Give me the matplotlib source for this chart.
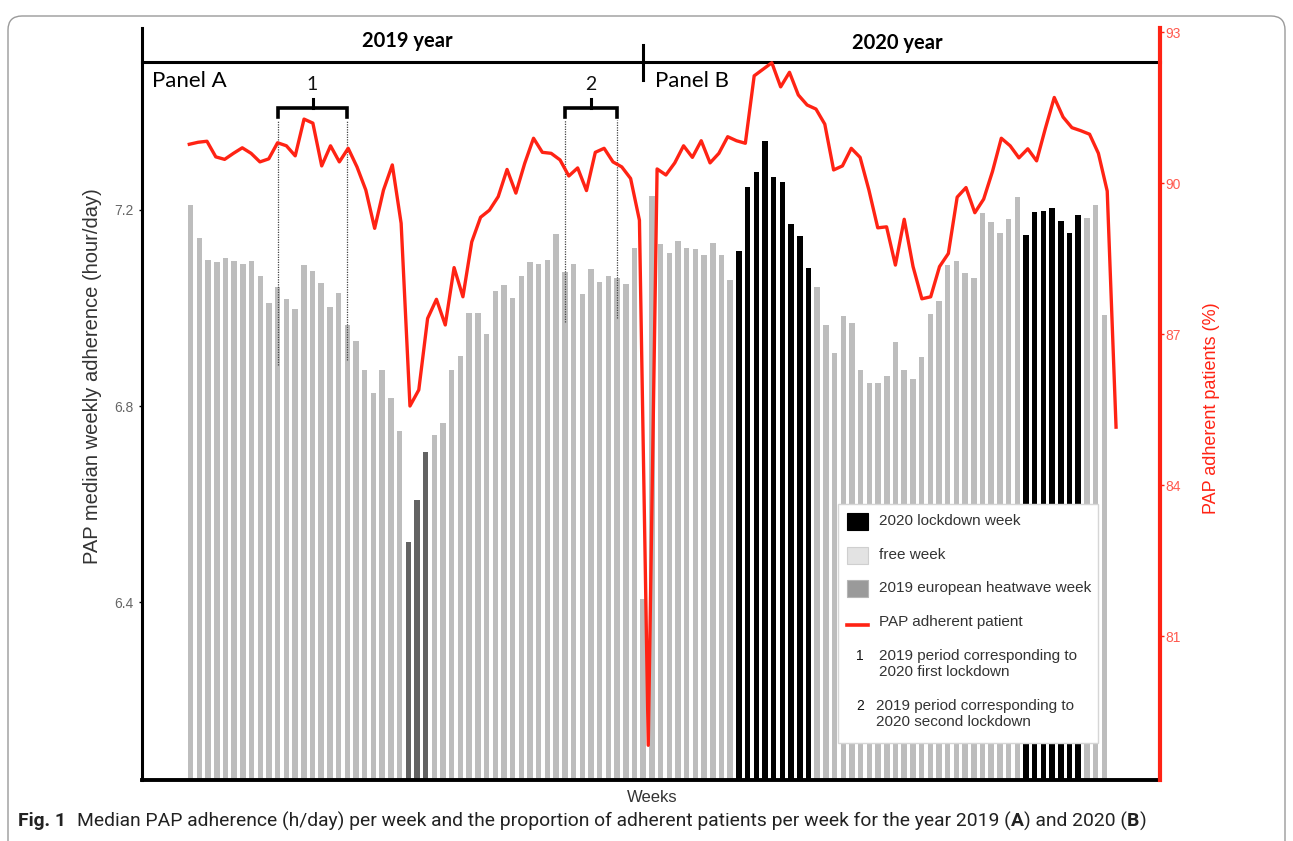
import matplotlib
matplotlib.use('Agg')
import matplotlib.pyplot as plt
import numpy as np
from matplotlib.patches import Rectangle, FancyBboxPatch
from matplotlib.lines import Line2D
from matplotlib.transforms import IdentityTransform

plt.rcParams['font.family'] = ['Liberation Sans', 'DejaVu Sans']

# median weekly PAP adherence (hour/day), 2019 weeks then 2020 weeks
adherence = [
    7.210, 7.142, 7.098, 7.094, 7.103, 7.096, 7.089, 7.096, 7.065, 7.011,
    7.044, 7.018, 6.999, 7.087, 7.075, 7.051, 7.002, 7.030, 6.966, 6.933,
    6.874, 6.827, 6.874, 6.817, 6.750, 6.524, 6.608, 6.706, 6.741, 6.765,
    6.874, 6.903, 6.990, 6.991, 6.947, 7.035, 7.047, 7.021, 7.065, 7.093,
    7.089, 7.098, 7.152, 7.073, 7.089, 7.028, 7.079, 7.054, 7.065, 7.061,
    7.050, 7.122, 6.406, 7.228, 7.130, 7.113, 7.137, 7.122, 7.120, 7.108,
    7.133, 7.108, 7.058, 7.117, 7.246, 7.278, 7.340, 7.267, 7.257, 7.172,
    7.146, 7.082, 7.042, 6.966, 6.908, 6.983, 6.969, 6.874, 6.847, 6.847,
    6.862, 6.931, 6.874, 6.856, 6.901, 6.987, 7.015, 7.088, 7.096, 7.071,
    7.061, 7.193, 7.176, 7.153, 7.181, 7.227, 7.149, 7.196, 7.197, 7.205,
    7.177, 7.153, 7.189, 7.183, 7.210, 6.985,
]

# proportion of adherent patients per week (%)
adherent_pct = [
    90.77, 90.81, 90.83, 90.52, 90.47, 90.59, 90.70, 90.59, 90.42, 90.48,
    90.80, 90.74, 90.54, 91.27, 91.19, 90.34, 90.74, 90.42, 90.69, 90.32,
    89.86, 89.10, 89.86, 90.36, 89.20, 85.57, 85.89, 87.31, 87.69, 87.18,
    88.32, 87.74, 88.83, 89.32, 89.46, 89.73, 90.27, 89.80, 90.39, 90.89,
    90.61, 90.59, 90.46, 90.14, 90.30, 89.85, 90.61, 90.69, 90.42, 90.32,
    90.09, 89.26, 78.83, 90.28, 90.16, 90.40, 90.74, 90.51, 90.84, 90.40,
    90.59, 90.92, 90.84, 90.79, 92.13, 92.26, 92.39, 91.91, 92.20, 91.75,
    91.55, 91.47, 91.17, 90.26, 90.34, 90.69, 90.51, 89.86, 89.11, 89.13,
    88.37, 89.28, 88.34, 87.70, 87.74, 88.34, 88.60, 89.72, 89.91, 89.41,
    89.68, 90.23, 90.89, 90.74, 90.50, 90.68, 90.44, 91.09, 91.70, 91.31,
    91.10, 91.04, 90.97, 90.59, 89.84, 85.15,
]

heatwave_weeks = [26, 27, 28]
lockdown_weeks = list(range(64, 73)) + list(range(97, 104))
period_1 = (11, 19)
period_2 = (44, 50)
year_split = 53

left_ticks = [6.4, 6.8, 7.2]
right_ticks = [81, 84, 87, 90, 93]

RED = '#ff2314'
W, H = 1293, 841


def fx(x):
    return x / W


def fy(y):
    return 1 - y / H


weeks = np.arange(1, len(adherence) + 1)
colors = []
for w in weeks:
    if w in lockdown_weeks:
        colors.append('#000000')
    elif w in heatwave_weeks:
        colors.append('#636363')
    else:
        colors.append('#bdbdbd')

fig = plt.figure(figsize=(W / 100, H / 100), dpi=100)
rect = [fx(142), fy(780), fx(1160) - fx(142), fy(28) - fy(780)]

# bars on left axis
ax = fig.add_axes(rect)
ax.bar(weeks, adherence, width=0.63, color=colors, zorder=2)
ax.set_xlim(-4.6, 112.4)
ax.set_ylim(6.038, 7.571)
ax.set_xticks([])
ax.set_yticks(left_ticks)
ax.set_yticklabels([f'{t:.1f}' for t in left_ticks])
ax.tick_params(axis='y', length=2, width=1, colors='#000000', labelcolor='#666666',
               labelsize=10, pad=4)
for s in ['top', 'right']:
    ax.spines[s].set_visible(False)
ax.spines['left'].set_linewidth(2.2)
ax.spines['bottom'].set_linewidth(2.8)

# comparison periods: dotted guides + brackets
xt = ax.get_xaxis_transform()
guides = [(period_1[0], 6.884), (period_1[1], 6.894), (period_2[0], 6.972), (period_2[1], 6.980)]
for wk, ybot in guides:
    ax.plot([wk, wk], [ybot, 7.384], color='#444444', lw=0.9, ls=(0, (1, 1)), zorder=3)
for (a, b), lab in [(period_1, '1'), (period_2, '2')]:
    ax.plot([a, a, b, b], [0.882, 0.894, 0.894, 0.882], color='black', lw=2.6,
            transform=xt, clip_on=False, solid_joinstyle='miter')
    mid = (a + b) / 2
    ax.plot([mid, mid], [0.894, 0.906], color='black', lw=2.2, transform=xt, clip_on=False)
    ax.text(mid, 0.925, lab, transform=xt, ha='center', va='center', fontsize=14,
            family=['Lato', 'DejaVu Sans'], color='#111111')

# year header
ax.plot([0, 1], [0.9548, 0.9548], color='black', lw=2.2, transform=ax.transAxes, clip_on=False)
ax.plot([year_split, year_split], [0.931, 0.977], color='black', lw=2.2, transform=xt, clip_on=False)

# adherent patients line on right axis
axr = fig.add_axes(rect)
axr.patch.set_visible(False)
axr.plot(weeks, adherent_pct, color=RED, lw=2.4, zorder=4)
axr.set_xlim(-4.36, 110.98)
axr.set_ylim(78.14, 93.08)
axr.set_xticks([])
axr.yaxis.tick_right()
axr.set_yticks(right_ticks)
axr.tick_params(axis='y', length=3, width=1, colors=RED, labelcolor='#ff5a4f',
                labelsize=10, pad=1)
for s in ['left', 'top', 'bottom']:
    axr.spines[s].set_visible(False)
axr.spines['right'].set_color(RED)
axr.spines['right'].set_linewidth(3)

# labels
lato = ['Lato', 'DejaVu Sans']
fig.text(fx(407), fy(41), '2019 year', ha='center', va='center', fontsize=14.5,
         fontweight='bold', family=lato)
fig.text(fx(897), fy(43), '2020 year', ha='center', va='center', fontsize=14.5,
         fontweight='bold', family=lato)
fig.text(fx(152), fy(81), 'Panel A', ha='left', va='center', fontsize=16, family=lato)
fig.text(fx(655), fy(81), 'Panel B', ha='left', va='center', fontsize=16, family=lato)
fig.text(fx(93), fy(376), 'PAP median weekly adherence (hour/day)', rotation=90,
         ha='center', va='center', fontsize=14.5, color='#333333')
fig.text(fx(1212), fy(408), 'PAP adherent patients (%)', rotation=90,
         ha='center', va='center', fontsize=13, color=RED)
fig.text(fx(652), fy(797), 'Weeks', ha='center', va='center', fontsize=12, color='#333333')

# legend box
fig.add_artist(Rectangle((fx(838), fy(743)), fx(1098) - fx(838), fy(504) - fy(743),
                         transform=fig.transFigure, facecolor='white', edgecolor='#d6d6d6',
                         lw=1, zorder=5))
patches = [('#000000', '#000000', 521, '2020 lockdown week'),
           ('#e3e3e3', '#cfcfcf', 555, 'free week'),
           ('#9a9a9a', '#b5b5b5', 588, '2019 european heatwave week')]
for fc, ec, yc, lab in patches:
    fig.add_artist(Rectangle((fx(847), fy(yc + 8.5)), fx(21), fy(yc - 8.5) - fy(yc + 8.5),
                             transform=fig.transFigure, facecolor=fc, edgecolor=ec, lw=0.8,
                             zorder=6))
    fig.text(fx(879), fy(yc), lab, ha='left', va='center', fontsize=11, color='#333333',
             zorder=6)
fig.add_artist(Line2D([fx(847), fx(868)], [fy(625), fy(625)], color=RED, lw=2.6,
                      transform=fig.transFigure, zorder=6))
fig.text(fx(879), fy(622), 'PAP adherent patient', ha='left', va='center', fontsize=11,
         color='#333333', zorder=6)
fig.text(fx(860), fy(656), '1', ha='center', va='center', fontsize=10, color='#111111', zorder=6)
fig.text(fx(879), fy(664), '2019 period corresponding to\n2020 first lockdown', ha='left',
         va='center', fontsize=11, color='#333333', linespacing=1.1, zorder=6)
fig.text(fx(860), fy(706), '2', ha='center', va='center', fontsize=10, color='#111111', zorder=6)
fig.text(fx(876), fy(714), '2019 period corresponding to\n2020 second lockdown', ha='left',
         va='center', fontsize=11, color='#333333', linespacing=1.1, zorder=6)

# page frame
frame = FancyBboxPatch((8, -30), 1277, 855, boxstyle='round,pad=0,rounding_size=14',
                       transform=IdentityTransform(), facecolor='none', edgecolor='#9a9a9a',
                       lw=1.0, zorder=0)
fig.add_artist(frame)

# caption, built piece by piece for the bold parts
cap_font = ['Roboto', 'DejaVu Sans']
pieces = [('Fig. 1', 'bold', 11), ('Median PAP adherence (h/day) per week and the proportion of '
          'adherent patients per week for the year 2019 (', 'normal', 0), ('A', 'bold', 0),
          (') and 2020 (', 'normal', 0), ('B', 'bold', 0), (')', 'normal', 0)]
renderer = fig.canvas.get_renderer()
xpos = 18
for txt, wgt, gap in pieces:
    t = fig.text(fx(xpos), fy(821), txt, ha='left', va='center', fontsize=13.9,
                 fontweight=wgt, family=cap_font, color='#222222')
    xpos += t.get_window_extent(renderer).width + gap

fig.savefig('out.png', dpi=100)
